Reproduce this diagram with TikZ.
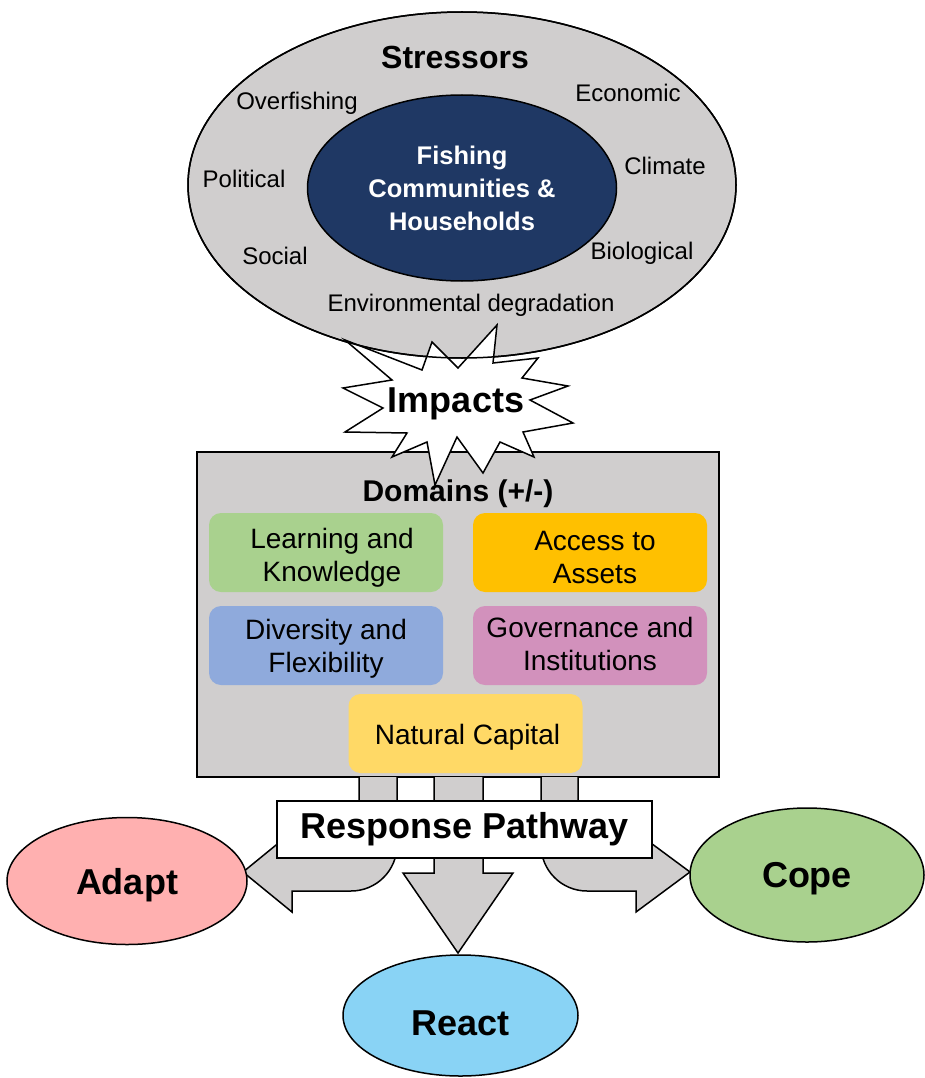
\documentclass[tikz,border=0pt]{standalone}
\usepackage{fontspec}
\setmainfont{Liberation Sans}
\usepackage{tikz}
\usetikzlibrary{
    shapes.geometric,
    calc
}

\definecolor{stressgray}{RGB}{208,206,206}
\definecolor{commnavy}{RGB}{31,56,100}
\definecolor{learngreen}{RGB}{169,209,142}
\definecolor{assetorange}{RGB}{255,192,0}
\definecolor{diverseblue}{RGB}{143,170,220}
\definecolor{govpink}{RGB}{210,145,188}
\definecolor{natyellow}{RGB}{255,217,102}
\definecolor{adaptpink}{RGB}{255,176,176}
\definecolor{reactblue}{RGB}{137,211,245}

\begin{document}
\begin{tikzpicture}[x=1pt,y=-1pt,line width=1.5pt,line join=miter,
    stresslabel/.style={font=\fontsize{24}{29}\selectfont},
    domainbox/.style={fill=#1,rounded corners=12pt,minimum width=234pt,minimum height=79pt},
    domaintext/.style={align=center,font=\fontsize{28}{33}\selectfont},
    pathoval/.style={ellipse,draw,fill=#1,text depth=0pt,font=\bfseries\fontsize{36}{43}\selectfont},
    blockarrow/.style={fill=stressgray,draw=black}]

\useasboundingbox (0,0) rectangle (925,1078);

% Stressors (outer ring)
\node[ellipse,draw,fill=stressgray,minimum width=548pt,minimum height=346pt] (stressors) at (462,185) {};
\node[font=\bfseries\fontsize{32}{38}\selectfont] (stresstitle) at (455,57) {Stressors};

% Communities (inner ring)
\node[ellipse,draw,fill=commnavy,minimum width=309pt,minimum height=186pt] (community) at (462,188) {};
\node[text=white,align=center,font=\bfseries\fontsize{25.5}{33}\selectfont] (communitytext) at (community.center)
    {Fishing\\Communities \&\\Households};

% Stressor labels
\node[stresslabel] (overfishing) at (297,103) {Overfishing};
\node[stresslabel] (economic) at (628,93) {Economic};
\node[stresslabel] (political) at (244,179) {Political};
\node[stresslabel] (climate) at (665,166) {Climate};
\node[stresslabel] (social) at (275,256) {Social};
\node[stresslabel] (biological) at (642,253) {Biological};
\node[stresslabel] (environmental) at (471,305) {Environmental degradation};

% Domains panel
\node[draw,fill=stressgray,minimum width=522pt,minimum height=325pt] (domains) at (458,614.5) {};

% Impacts burst
\draw[fill=white] (497,325) -- (493,363) -- (538,358) -- (522,378) -- (568,386)
    -- (530,400) -- (573,423) -- (523,432) -- (534,457) -- (500,442)
    -- (483,473) -- (457,437) -- (435,485) -- (427,442) -- (392,457)
    -- (407,433) -- (345,432) -- (383,408) -- (343,388) -- (392,380)
    -- (345,340) -- (422,370) -- (432,342) -- (458,368) -- cycle;
\draw (stressors.center) ellipse [x radius=274, y radius=173];
\node[font=\bfseries\fontsize{36}{43}\selectfont] (impacts) at (456,404) {Impacts};

% Domains
\node[font=\bfseries\fontsize{30}{36}\selectfont] (domaintitle) at (458,494) {Domains (+/-)};
\node[domainbox=learngreen] (learning) at (326,552.5) {};
\node[domainbox=assetorange] (access) at (590,552.5) {};
\node[domainbox=diverseblue] (diversity) at (326,645.5) {};
\node[domainbox=govpink] (governance) at (590,645.5) {};
\node[domainbox=natyellow] (natural) at (465.5,733.5) {};
\node[domaintext] (learningtext) at ($(learning)+(6,5)$) {Learning and\\Knowledge};
\node[domaintext] (accesstext) at ($(access)+(5,5)$) {Access to\\Assets};
\node[domaintext] (diversitytext) at ($(diversity)+(0,3)$) {Diversity and\\Flexibility};
\node[domaintext] (governancetext) at ($(governance)+(0,-2)$) {Governance and\\Institutions};
\node[domaintext] (naturaltext) at ($(natural)+(2,4)$) {Natural Capital};

% Response arrows
\path[blockarrow] (397,777) -- (397,845) arc[start angle=0,end angle=90,radius=46]
    -- (292,891) -- (292,912) -- (243,872) -- (292,832) -- (292,853)
    -- (359,853) -- (359,777);
\path[blockarrow] (541,777) -- (541,845) arc[start angle=180,end angle=90,radius=46]
    -- (636,891) -- (636,912) -- (690,872) -- (636,832) -- (636,853)
    -- (578,853) -- (578,777);
\path[blockarrow] (434,777) -- (434,873) -- (403,873) -- (458,953) -- (513,873)
    -- (483,873) -- (483,777);

% Response Pathway
\node[draw,fill=white,minimum width=375pt,minimum height=57pt,
    font=\bfseries\fontsize{36}{43}\selectfont] (response) at (464.5,829.5) {Response Pathway};

% Outcomes
\node[pathoval=adaptpink,minimum width=240pt,minimum height=127pt] (adapt) at (127,881) {Adapt};
\node[pathoval=learngreen,minimum width=234pt,minimum height=134pt] (cope) at (807,875) {Cope};
\node[pathoval=reactblue,text height=40pt,minimum width=235pt,minimum height=121pt] (react) at (460.5,1015.5) {React};

\end{tikzpicture}
\end{document}
